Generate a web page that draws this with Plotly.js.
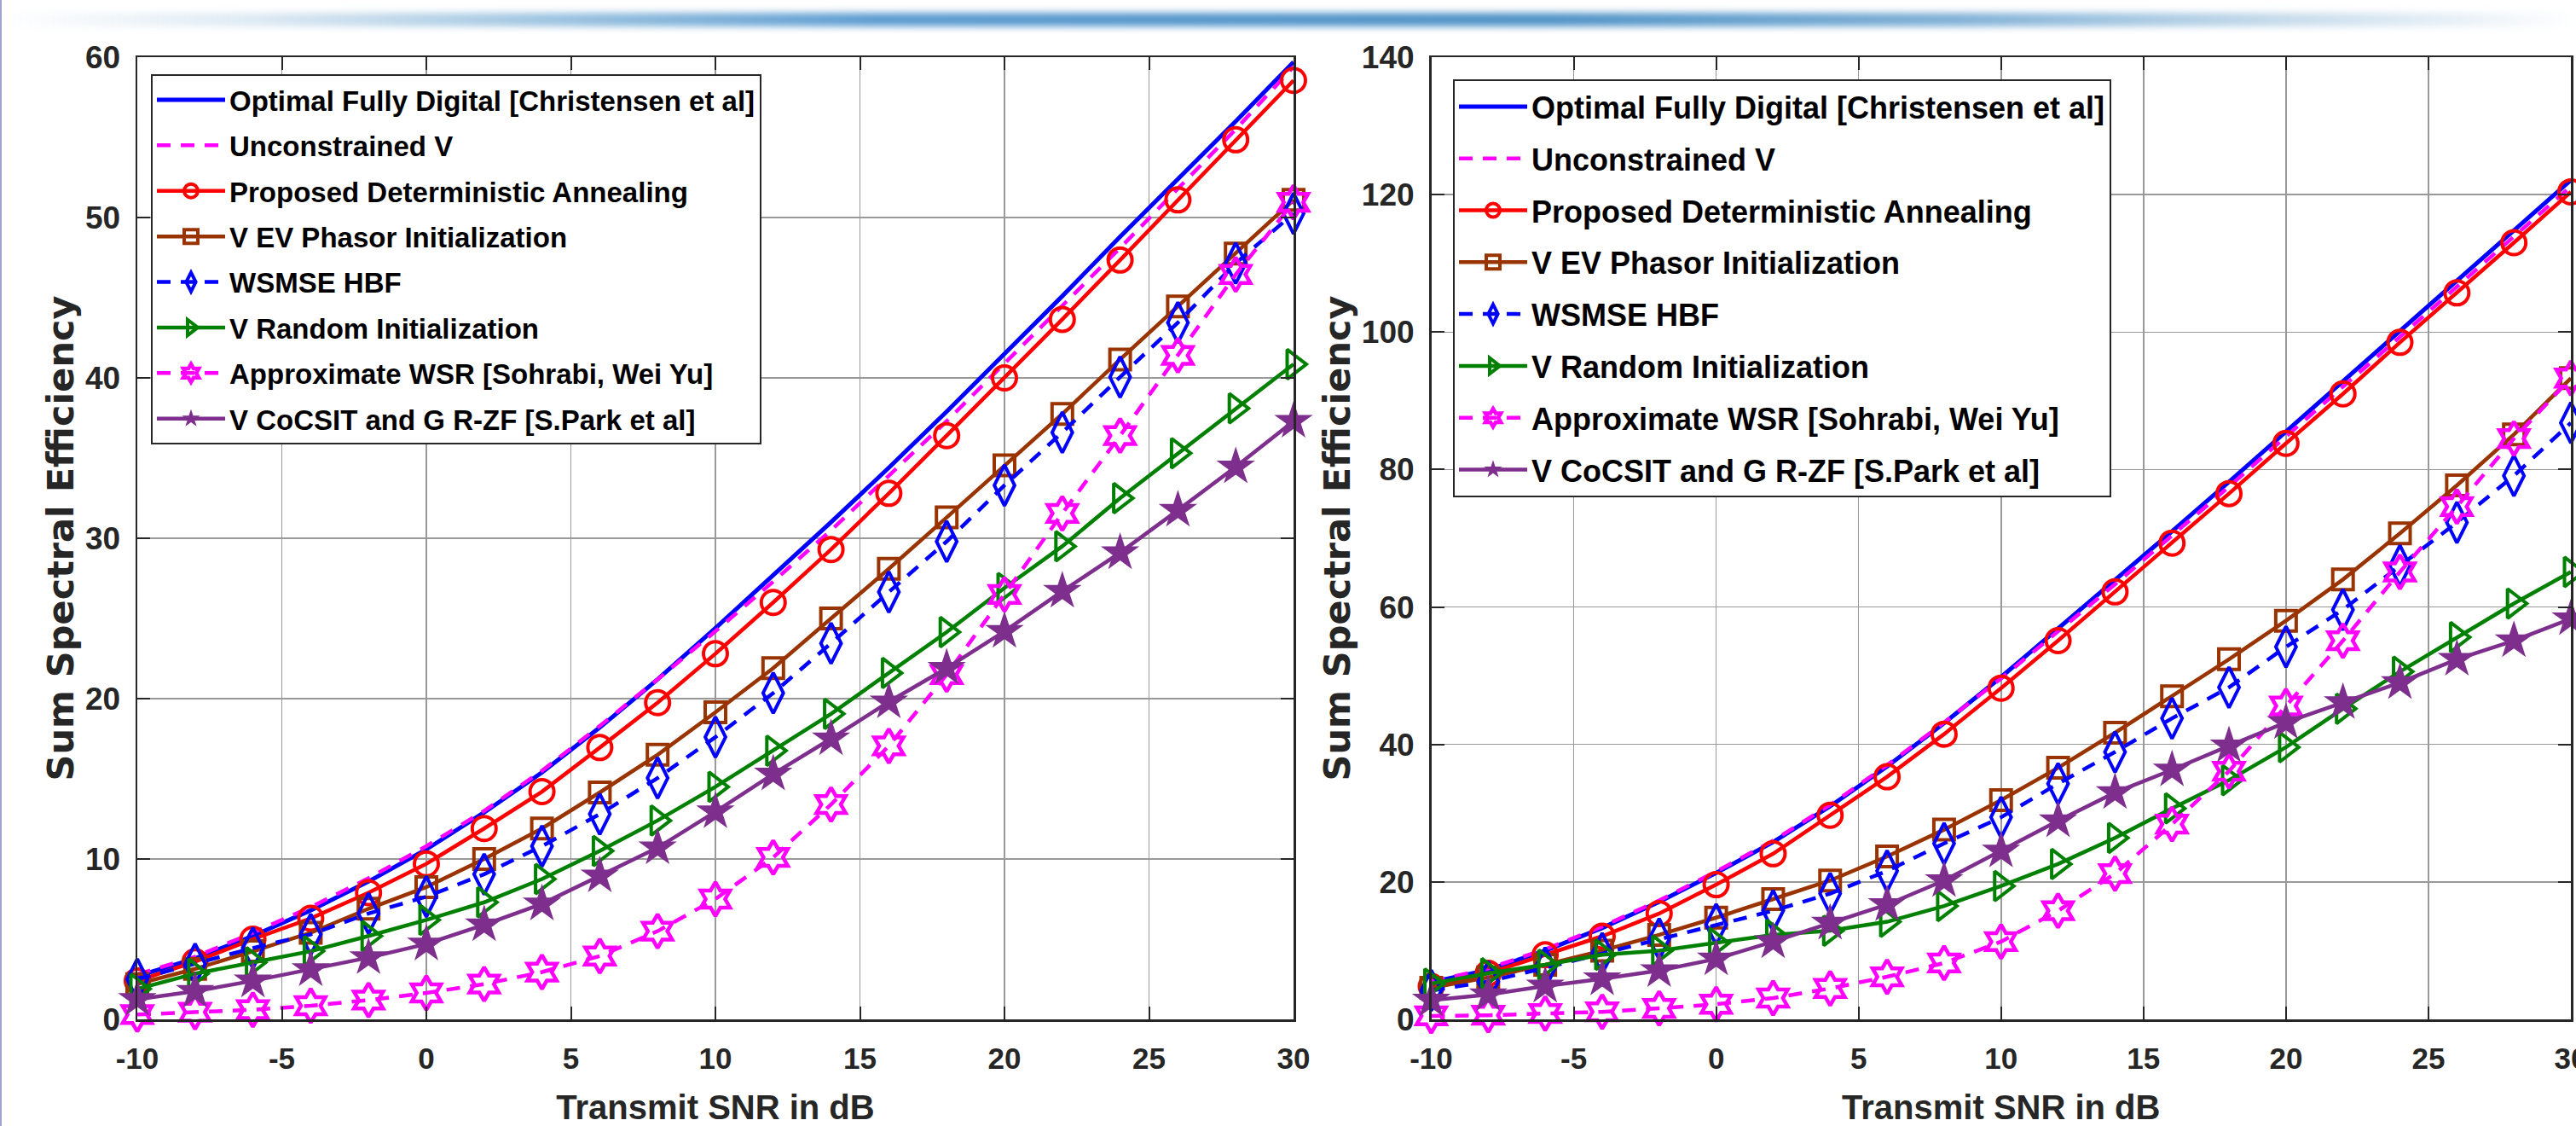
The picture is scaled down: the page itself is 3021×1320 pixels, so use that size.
<!DOCTYPE html>
<html>
<head>
<meta charset="utf-8">
<script src="https://cdn.plot.ly/plotly-3.0.1.min.js"></script>
<style>
html,body{margin:0;padding:0;background:#ffffff;width:3021px;height:1320px;overflow:hidden;}
#band{position:absolute;left:0;top:15px;width:3021px;height:16px;
  background:linear-gradient(to right,rgba(255,255,255,0) 0%,#dce9f3 10%,#8dbadc 24%,#5b9bd0 34%,#4f92c6 60%,#7fb0d6 76%,#c7dcec 89%,rgba(255,255,255,0) 100%);
  filter:blur(4px);}
#edge{position:absolute;left:0;top:0;width:2px;height:1320px;background:#a2a3d2;}
#chart{position:absolute;left:0;top:0;width:3021px;height:1320px;}
</style>
</head>
<body>
<div id="band"></div>
<div id="edge"></div>
<div id="chart"></div>
<script>
// ---------------- data ----------------
const snr = [-10,-8,-6,-4,-2,0,2,4,6,8,10,12,14,16,18,20,22,24,26,28,30];
const xTickVals = [-10,-5,0,5,10,15,20,25,30];
const xTickLabels = ['-10','-5','0','5','10','15','20','25','30'];

const seriesNames = [
  'Optimal Fully Digital [Christensen et al]',
  'Unconstrained V',
  'Proposed Deterministic Annealing',
  'V EV Phasor Initialization',
  'WSMSE HBF',
  'V Random Initialization',
  'Approximate WSR [Sohrabi, Wei Yu]',
  'V CoCSIT and G R-ZF [S.Park et al]'
];

// left panel
const optimalL  = [2.7,3.8,5.2,6.8,8.6,10.6,12.9,15.4,18.2,21.2,24.4,27.7,31.0,34.4,37.9,41.5,45.1,48.8,52.4,56.0,59.7];
const unconL    = [2.8,3.9,5.4,7.0,8.8,10.8,13.0,15.5,18.3,21.2,24.2,27.3,30.5,33.9,37.3,40.9,44.5,48.1,51.8,55.5,59.4];
const proposedL = [2.4,3.6,5.0,6.3,7.9,9.7,11.9,14.2,16.95,19.75,22.8,26.0,29.3,32.8,36.4,40.0,43.65,47.35,51.1,54.85,58.55];
const evPhasorL = [2.2,3.15,4.25,5.4,6.9,8.25,10.0,11.9,14.15,16.5,19.15,21.9,25.0,28.1,31.3,34.55,37.75,41.15,44.45,47.75,51.1];
const wsmseL    = [2.5,3.45,4.45,5.3,6.6,7.65,9.05,10.8,12.8,15.05,17.6,20.35,23.45,26.65,29.8,33.3,36.6,40.05,43.45,47.15,50.25];
const randomL   = [1.9,2.85,3.55,4.25,5.2,6.2,7.3,8.75,10.5,12.4,14.5,16.75,19.05,21.6,24.15,26.9,29.5,32.5,35.3,38.1,40.85];
const approxL   = [0.3,0.45,0.6,0.85,1.2,1.65,2.2,2.95,3.95,5.5,7.5,10.1,13.4,17.05,21.5,26.5,31.55,36.4,41.4,46.45,50.95];
const cocsitL   = [1.25,1.75,2.4,3.1,3.85,4.7,5.9,7.2,8.95,10.7,12.95,15.3,17.5,19.8,21.9,24.2,26.7,29.1,31.75,34.45,37.3];

// right panel
const optimalR  = [5.4,7.2,10.0,13.3,17.1,21.3,25.8,31.0,36.8,43.1,49.8,56.8,63.9,71.0,78.2,85.5,92.8,100.2,107.5,114.8,122.1];
const unconR    = [5.5,7.4,10.2,13.5,17.3,21.5,26.0,31.2,37.0,43.2,49.6,56.4,63.3,70.4,77.5,84.8,92.0,99.3,106.6,113.9,121.2];
const proposedR = [4.8,6.7,9.4,12.1,15.4,19.6,24.1,29.7,35.3,41.5,48.2,55.1,62.2,69.3,76.5,83.8,91.0,98.5,105.7,113.0,120.4];
const evPhasorR = [4.6,6.1,7.95,10.0,12.3,14.8,17.5,20.2,23.7,27.6,31.9,36.6,41.7,47.0,52.4,58.0,64.0,70.7,77.7,85.1,93.3];
const wsmseR    = [4.2,5.5,7.5,9.6,11.7,13.8,15.8,18.3,21.6,25.6,29.4,34.3,38.9,43.8,48.3,54.2,59.6,66.0,72.3,79.1,86.8];
const randomR   = [5.2,6.7,7.95,9.4,10.0,11.1,12.3,12.9,14.2,16.5,19.4,22.6,26.4,30.7,34.8,39.6,45.2,50.6,55.6,60.5,65.1];
const approxR   = [0.5,0.6,0.85,1.1,1.6,2.2,3.1,4.5,6.2,8.2,11.3,15.8,21.2,28.4,36.1,45.6,55.1,65.1,74.6,84.5,93.3];
const cocsitR   = [2.8,3.6,4.85,5.9,7.1,8.8,11.3,14.0,16.7,20.2,24.5,28.9,33.0,36.3,39.8,43.2,46.1,49.0,52.4,55.1,58.3];

// ---------------- styles ----------------
function fontAvailable(name){
  const c = document.createElement('canvas').getContext('2d');
  const s = 'Optimal Fully Digital WSMSE 0123456789';
  c.font = 'bold 40px monospace'; const a = c.measureText(s).width;
  c.font = 'bold 40px "' + name + '", monospace'; const b = c.measureText(s).width;
  return Math.abs(a - b) > 1;
}
const NARROW = fontAvailable('Liberation Sans Narrow');
const FAM = NARROW ? '"Liberation Sans Narrow", "Liberation Sans", Arial, sans-serif' : '"Liberation Sans", Arial, sans-serif';
const SZ = NARROW ? {legL:40, legR:44, ytick:44, xtitle:48, gapL:0, gapR:3}
                  : {legL:33, legR:36, ytick:37, xtitle:40, gapL:7.5, gapR:11};
const TXT = '#262626';

const styles = [
  {mode:'lines', line:{color:'#0000ff', width:5}},
  {mode:'lines', line:{color:'#ff00ff', width:4.5, dash:'16px,12px'}},
  {mode:'lines+markers', line:{color:'#ff0000', width:4.5}, marker:{symbol:'circle-open', size:28, color:'#ff0000', line:{width:4, color:'#ff0000'}}},
  {mode:'lines+markers', line:{color:'#993300', width:4.5}, marker:{symbol:'square-open', size:24, color:'#993300', line:{width:4, color:'#993300'}}},
  {mode:'lines+markers', line:{color:'#0000ff', width:4.5, dash:'16px,12px'}, marker:{symbol:'diamond-tall-open', size:34, color:'#0000ff', line:{width:4, color:'#0000ff'}}},
  {mode:'lines+markers', line:{color:'#008000', width:4.5}, marker:{symbol:'triangle-right-open', size:30, color:'#008000', line:{width:4, color:'#008000'}}},
  {mode:'lines+markers', line:{color:'#ff00ff', width:4.5, dash:'16px,12px'}, marker:{symbol:'hexagram-open', size:30, color:'#ff00ff', line:{width:4.5, color:'#ff00ff'}}},
  {mode:'lines+markers', line:{color:'#7e2f8e', width:4.5}, marker:{symbol:'star', size:34, color:'#7e2f8e', line:{width:0}}}
];

const leftSeries  = [optimalL, unconL, proposedL, evPhasorL, wsmseL, randomL, approxL, cocsitL];
const rightSeries = [optimalR, unconR, proposedR, evPhasorR, wsmseR, randomR, approxR, cocsitR];

const traces = [];
leftSeries.forEach((ys, i) => {
  traces.push(Object.assign({type:'scatter', x:snr, y:ys, name:seriesNames[i], xaxis:'x', yaxis:'y',
    legend:'legend', legendgroup:'L' + i, cliponaxis:false}, JSON.parse(JSON.stringify(styles[i]))));
});
rightSeries.forEach((ys, i) => {
  traces.push(Object.assign({type:'scatter', x:snr, y:ys, name:seriesNames[i], xaxis:'x2', yaxis:'y2',
    legend:'legend2', legendgroup:'R' + i, cliponaxis:false}, JSON.parse(JSON.stringify(styles[i]))));
});

const W = 3021, H = 1320;
function xAxis(domain){
  return {
    domain: domain, range:[-10,30], tickvals:xTickVals, ticktext:xTickLabels,
    showgrid:true, gridcolor:'#999999', gridwidth:1.5, zeroline:false,
    showline:true, linecolor:TXT, linewidth:2.5, mirror:'ticks',
    ticks:'inside', ticklen:15, tickwidth:2, tickcolor:TXT,
    tickfont:{family:'"Liberation Sans", Arial, sans-serif', size:35, weight:700, color:TXT},
    ticklabelstandoff:13, ticklabeloverflow:'allow',
    title:{text:'Transmit SNR in dB', font:{family:FAM, size:SZ.xtitle, weight:700, color:TXT}, standoff:54},
    fixedrange:true
  };
}
function yAxis(range, dtick, anchor){
  return {
    domain:[125/H, 1253/H], range:range, dtick:dtick, anchor:anchor,
    showgrid:true, gridcolor:'#999999', gridwidth:1.5, zeroline:false,
    showline:true, linecolor:TXT, linewidth:2.5, mirror:'ticks',
    ticks:'inside', ticklen:15, tickwidth:2, tickcolor:TXT,
    tickfont:{family:FAM, size:SZ.ytick, weight:700, color:TXT},
    ticklabelstandoff:10,
    title:{text:'Sum Spectral Efficiency', font:{family:'"DejaVu Sans", sans-serif', size:43, weight:700, color:TXT}, standoff:0},
    fixedrange:true
  };
}

const layout = {
  width:W, height:H,
  margin:{l:0, r:0, t:0, b:0},
  paper_bgcolor:'rgba(0,0,0,0)', plot_bgcolor:'#ffffff',
  showlegend:true,
  xaxis: Object.assign(xAxis([161/W, 1517/W]), {anchor:'y'}),
  yaxis: yAxis([0,60], 10, 'x'),
  xaxis2: Object.assign(xAxis([1678.5/W, 3015/W]), {anchor:'y2'}),
  yaxis2: yAxis([0,140], 20, 'x2'),
  legend: {x:177/W, y:1-87/H, xanchor:'left', yanchor:'top', bgcolor:'#ffffff', bordercolor:TXT, borderwidth:2,
           font:{family:FAM, size:SZ.legL, weight:700, color:'#000000'}, itemwidth:80, tracegroupgap:SZ.gapL},
  legend2: {x:1704/W, y:1-93/H, xanchor:'left', yanchor:'top', bgcolor:'#ffffff', bordercolor:TXT, borderwidth:2,
           font:{family:FAM, size:SZ.legR, weight:700, color:'#000000'}, itemwidth:80, tracegroupgap:SZ.gapR}
};

Plotly.newPlot('chart', traces, layout, {staticPlot:true, displayModeBar:false});
</script>
</body>
</html>
